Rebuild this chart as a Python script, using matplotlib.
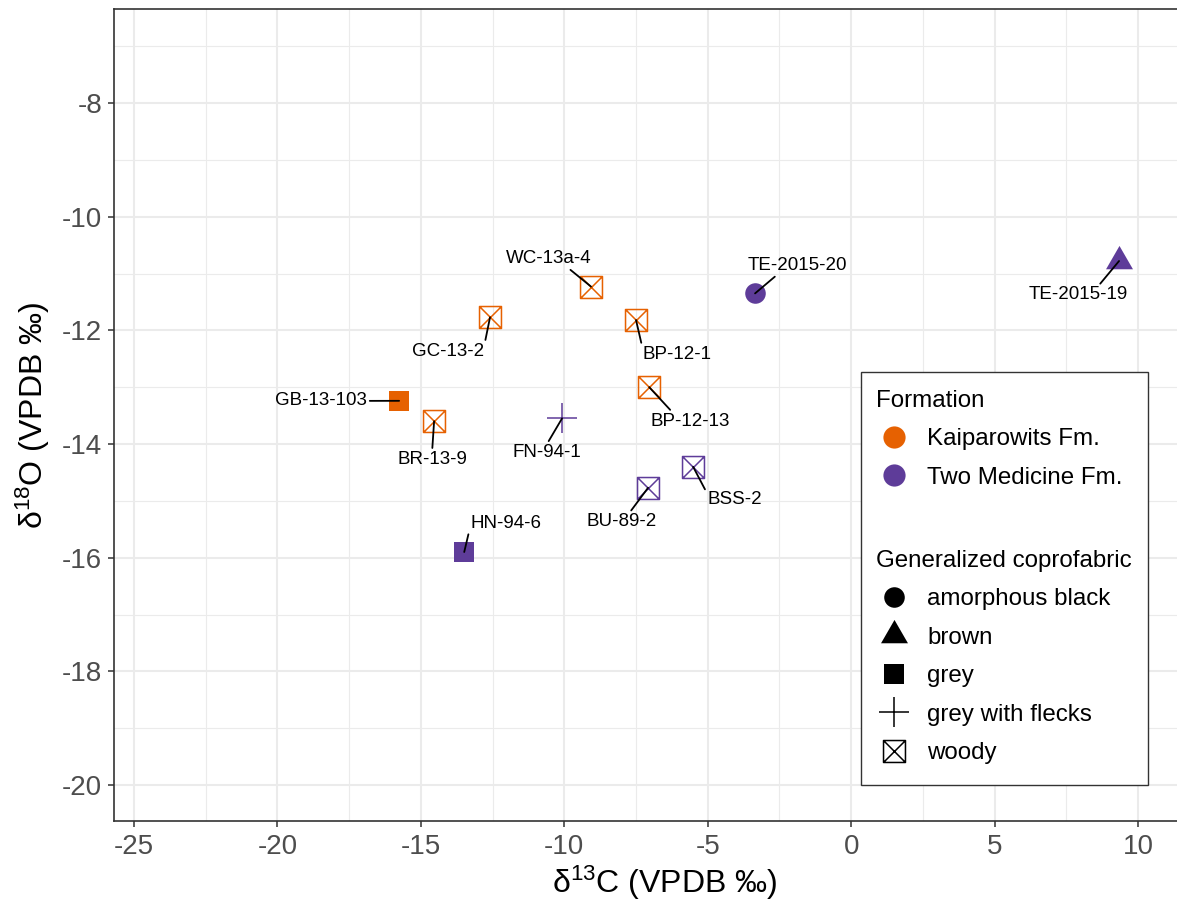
import matplotlib
matplotlib.use("Agg")
import matplotlib.pyplot as plt
from matplotlib.lines import Line2D
from matplotlib.patches import Rectangle
from matplotlib.path import Path
from matplotlib.ticker import MultipleLocator

plt.rcParams["font.family"] = ["Liberation Sans", "DejaVu Sans"]
plt.rcParams["mathtext.fontset"] = "custom"
plt.rcParams["mathtext.rm"] = "Liberation Sans"

# coprolite isotope values
samples = ["WC-13a-4", "GC-13-2", "BP-12-1", "BP-12-13", "GB-13-103", "BR-13-9",
           "FN-94-1", "BSS-2", "BU-89-2", "HN-94-6", "TE-2015-20", "TE-2015-19"]
d13c = [-9.07, -12.59, -7.50, -7.04, -15.76, -14.54,
        -10.08, -5.51, -7.08, -13.49, -3.35, 9.34]
d18o = [-11.23, -11.77, -11.82, -13.00, -13.24, -13.60,
        -13.55, -14.40, -14.77, -15.90, -11.35, -10.78]
formation = ["Kaiparowits Fm.", "Kaiparowits Fm.", "Kaiparowits Fm.", "Kaiparowits Fm.",
             "Kaiparowits Fm.", "Kaiparowits Fm.", "Two Medicine Fm.", "Two Medicine Fm.",
             "Two Medicine Fm.", "Two Medicine Fm.", "Two Medicine Fm.", "Two Medicine Fm."]
fabric = ["woody", "woody", "woody", "woody", "grey", "woody",
          "grey with flecks", "woody", "woody", "grey", "amorphous black", "brown"]

formation_levels = ["Kaiparowits Fm.", "Two Medicine Fm."]
fabric_levels = ["amorphous black", "brown", "grey", "grey with flecks", "woody"]

# label placement (offset from point in pt, and where the leader leaves the text box)
label_offsets = [(-30.2, 21.6), (-30.2, -23.0), (29.5, -23.0), (29.5, -23.0), (-56.2, 1.4),
                 (-1.4, -25.9), (-10.8, -23.0), (30.2, -22.3), (-18.7, -23.0), (30.2, 22.3),
                 (30.2, 21.6), (-29.5, -23.0)]
label_relpos = [(0.71, 0.0), (1.0, 0.8), (0.0, 0.85), (0.28, 1.0), (1.0, 0.5),
                (0.5, 1.0), (0.5, 1.0), (0.0, 0.8), (0.6, 1.0), (0.0, 0.4),
                (0.31, 0.0), (0.7, 1.0)]

colors = {"Kaiparowits Fm.": "#E66101", "Two Medicine Fm.": "#5E3C99"}

woody_path = Path(
    [(-1, -1), (1, -1), (1, 1), (-1, 1), (-1, -1), (-1, -1), (1, 1), (-1, 1), (1, -1)],
    [Path.MOVETO, Path.LINETO, Path.LINETO, Path.LINETO, Path.CLOSEPOLY,
     Path.MOVETO, Path.LINETO, Path.MOVETO, Path.LINETO])
tri_path = Path([(0, 1.1547), (-1, -0.57735), (1, -0.57735), (0, 1.1547)],
                [Path.MOVETO, Path.LINETO, Path.LINETO, Path.CLOSEPOLY])

shapes = {
    "amorphous black": dict(marker="o", ms=14.8, filled=True),
    "brown": dict(marker=tri_path, ms=22.4, filled=True),
    "grey": dict(marker="s", ms=15.1, filled=True),
    "grey with flecks": dict(marker="+", ms=21.6, filled=False),
    "woody": dict(marker=woody_path, ms=15.8, filled=False),
}


def marker_kw(fab, color, scale=1.0):
    s = shapes[fab]
    kw = dict(ls="none", marker=s["marker"], ms=s["ms"] * scale, color=color)
    if s["filled"]:
        kw.update(mfc=color, mec=color, mew=0)
    else:
        kw.update(mfc="none", mec=color, mew=1.1)
    return kw


W, H, DPI = 1177, 905, 100
fig = plt.figure(figsize=(W / DPI, H / DPI), dpi=DPI)
ax = fig.add_axes([114 / W, (H - 821) / H, (1214 - 114) / W, (821 - 9) / H])
ax.set_xlim(-25.70, 12.65)
ax.set_ylim(-20.633, -6.346)

ax.xaxis.set_major_locator(MultipleLocator(5))
ax.xaxis.set_minor_locator(MultipleLocator(2.5))
ax.yaxis.set_major_locator(MultipleLocator(2))
ax.yaxis.set_minor_locator(MultipleLocator(1))
ax.grid(which="major", color="#EBEBEB", lw=1.5)
ax.grid(which="minor", color="#EBEBEB", lw=0.8)
ax.set_axisbelow(True)
for sp in ax.spines.values():
    sp.set_color("#333333")
    sp.set_linewidth(1.2)
ax.tick_params(which="major", length=4.3, width=1.1, color="#333333",
               labelcolor="#4D4D4D", labelsize=20)
ax.tick_params(axis="x", pad=5)
ax.tick_params(axis="y", pad=4.3)
ax.tick_params(which="minor", length=0)
ax.xaxis.set_major_formatter(matplotlib.ticker.FuncFormatter(lambda v, p: f"{v:g}"))
ax.yaxis.set_major_formatter(matplotlib.ticker.FuncFormatter(lambda v, p: f"{v:g}"))

for x, y, f, fab in zip(d13c, d18o, formation, fabric):
    ax.plot(x, y, **marker_kw(fab, colors[f]), zorder=2)

for name, x, y, off, rp in zip(samples, d13c, d18o, label_offsets, label_relpos):
    ax.annotate(name, xy=(x, y), xytext=off, textcoords="offset points",
                ha="center", va="center_baseline", fontsize=13.5, color="black",
                arrowprops=dict(arrowstyle="-", color="black", lw=1.3,
                                shrinkA=0, shrinkB=0, relpos=rp),
                zorder=3)

fig.text(665 / W, (H - 893) / H, r"$\mathregular{δ^{13}}$C (VPDB ‰)",
         ha="center", va="baseline", fontsize=23)
fig.text(43 / W, (H - 415) / H, r"$\mathregular{δ^{18}}$O (VPDB ‰)",
         ha="center", va="baseline", rotation=90, rotation_mode="anchor", fontsize=23)

# legend frame
frame = Rectangle((861 / W, (H - 785) / H), (1148 - 861) / W, (785 - 372) / H,
                  transform=fig.transFigure, facecolor="white", edgecolor="#333333",
                  lw=1.0, zorder=4)
fig.add_artist(frame)

leg_kw = dict(loc="upper left", frameon=False, fontsize=17.4, title_fontsize=17.4,
              alignment="left", borderpad=0, borderaxespad=0, handlelength=1.49,
              handletextpad=0.62, labelspacing=0.68)
form_handles = [Line2D([], [], **marker_kw("amorphous black", colors[f], 1.08))
                for f in formation_levels]
leg1 = fig.legend(form_handles, formation_levels, title="Formation",
                  bbox_to_anchor=(876 / W, (H - 390) / H), **leg_kw)
leg1.set_zorder(5)
fab_handles = [Line2D([], [], **marker_kw(fb, "black")) for fb in fabric_levels]
leg2 = fig.legend(fab_handles, fabric_levels, title="Generalized coprofabric",
                  bbox_to_anchor=(876 / W, (H - 550) / H), **leg_kw)
leg2.set_zorder(5)

fig.savefig("out.png", dpi=DPI)
